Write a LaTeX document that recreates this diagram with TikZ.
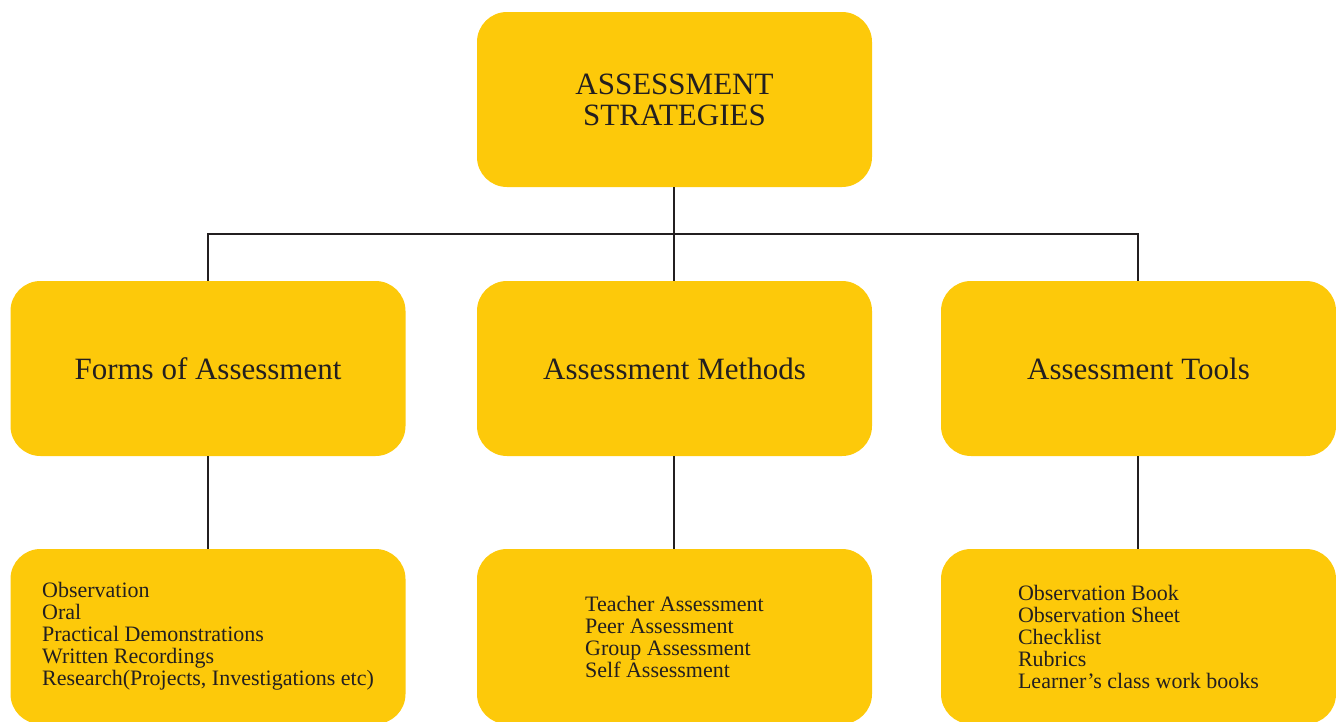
\documentclass[tikz,border=0pt]{standalone}
\usepackage{fontspec}
\setmainfont{Liberation Serif}
\usepackage{tikz}
\definecolor{boxyellow}{RGB}{253,201,10}
\definecolor{inkgray}{RGB}{35,31,32}
\tikzset{
	stratbox/.style={rounded corners=30pt, fill=boxyellow, minimum width=395pt, minimum height=175pt, inner sep=0pt, text=inkgray},
	headtext/.style={font=\fontsize{31}{31}\selectfont, align=center},
	listtext/.style={font=\fontsize{22}{22}\selectfont, align=left},
	branch/.style={line width=2pt, color=inkgray}
}

\begin{document}
\begin{tikzpicture}[x=1pt, y=-1pt]
			%%%%% START %%%%%
			
			\useasboundingbox (0, 0) rectangle (1336, 721);
			
			\node[stratbox, headtext] (strategies) at (674.5, 99.5) {ASSESSMENT\\STRATEGIES};
			
			\node[stratbox, headtext] (forms) at (208, 368.5) {Forms of Assessment};
			\node[stratbox, headtext] (methods) at (674.5, 368.5) {Assessment Methods};
			\node[stratbox, headtext] (tools) at (1138.5, 368.5) {Assessment Tools};
			
			\node[stratbox, listtext] (formslist) at (208, 636.5) {Observation\\Oral\\Practical Demonstrations\\Written Recordings\\Research(Projects, Investigations etc)};
			\node[stratbox, listtext] (methodslist) at (674.5, 636.5) {Teacher Assessment\\Peer Assessment\\Group Assessment\\Self Assessment};
			\node[stratbox, listtext] (toolslist) at (1138.5, 636.5) {Observation Book\\Observation Sheet\\Checklist\\Rubrics\\Learner’s class work books};
			
			\coordinate (bar) at (674, 234);
			
			\draw[branch] (strategies.south -| bar) -- (methods.north -| bar);
			\draw[branch] (forms.north) -- (forms.north |- bar) -- ([xshift=-0.5pt]tools.north |- bar) -- ([xshift=-0.5pt]tools.north);
			
			\draw[branch] (forms.south) -- (formslist.north);
			\draw[branch] (methods.south -| bar) -- (methodslist.north -| bar);
			\draw[branch] ([xshift=-0.5pt]tools.south) -- ([xshift=-0.5pt]toolslist.north);
			
			%%%%% END %%%%%
		\end{tikzpicture}
\end{document}
